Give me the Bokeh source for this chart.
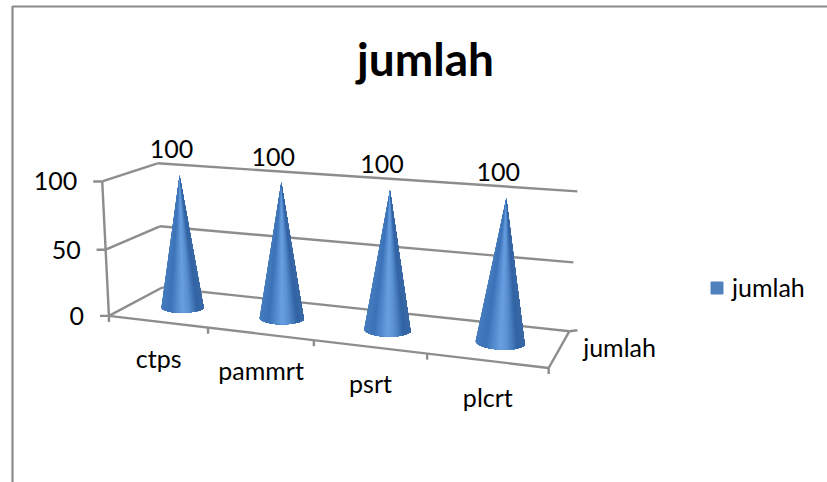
import numpy as np
from bokeh.plotting import figure
from bokeh.embed import file_html
from bokeh.resources import INLINE
from bokeh.core.properties import value
from bokeh.models import Legend, LegendItem

# ---- data
title_text = "jumlah"
categories = ["ctps", "pammrt", "psrt", "plcrt"]
series_name = "jumlah"
values = [100, 100, 100, 100]
y_ticks = [0, 50, 100]
y_max = 100

# ---- style
GRID = "#8d8d8d"
FONT = "Lato"
LABEL_SIZE = "25px"

# ---- the 3D frame: world (u along categories, v value, d depth) -> screen
frame_world = [(0, 0, 0), (1, 0, 0), (0, 0, 1), (1, 0, 1), (0, 1, 0), (0, 1, 1),
               (1, 1, 1), (0, .5, 0), (0, .5, 1), (1, .5, 1), (.25, 0, 0), (.5, 0, 0), (.75, 0, 0)]
frame_screen = [(109, 314), (548, 366), (162, 287), (569, 330), (102, 181), (157, 163),
                (577, 191), (105, 248), (159, 226), (573, 262), (207, 328), (313, 343), (427, 353)]


def fit_projection(world, screen):
    rows = []
    for (u, v, d), (x, y) in zip(world, screen):
        X = [u, v, d, 1]
        rows.append(X + [0, 0, 0, 0] + [-x * c for c in X])
        rows.append([0, 0, 0, 0] + X + [-y * c for c in X])
    A = np.array(rows, float)
    scale = np.abs(A).max(axis=0)
    _, _, vt = np.linalg.svd(A / scale)
    return (vt[-1] / scale).reshape(3, 4)


P = fit_projection(frame_world, frame_screen)


def project(u, val, d):
    h = P @ np.array([u, val / y_max, d, 1.0])
    return h[0] / h[2], h[1] / h[2]


p = figure(width=827, height=482, x_range=(0, 827), y_range=(482, 0),
           output_backend="svg", toolbar_location=None, min_border=0,
           x_axis_type=None, y_axis_type=None)
p.outline_line_color = None
p.xgrid.visible = False
p.ygrid.visible = False
p.background_fill_color = "white"


def seg(a, b, width=2.4):
    p.line([a[0], b[0]], [a[1], b[1]], line_color=GRID, line_width=width)


# chart-area border (open to the right and bottom of the crop)
p.line([12, 12, 827], [482, 6, 6], line_color="#8a8a8a", line_width=2.2)

# walls: gridlines on the back wall and side wall, floor
for t in y_ticks:
    seg(project(0, t, 0), project(0, t, 1))
    seg(project(0, t, 1), project(1, t, 1))
seg(project(0, 0, 0), project(0, y_max, 0))
seg(project(0, 0, 0), project(1, 0, 0))
seg(project(1, 0, 0), project(1, 0, 1))

# ticks
for t in y_ticks:
    x, y = project(0, t, 0)
    seg((x - 9, y), (x, y))
n = len(categories)
for i in range(n + 1):
    x, y = project(i / n, 0, 0)
    seg((x, y), (x, y + 6))
x, y = project(1, 0, 1)
seg((x, y), (x + 8, y - 1))

# ---- cones: nested fans painted left to right, so that no seams show
STOPS_T = [0.0, 0.2, 0.5, 0.65, 0.85, 1.0]
STOPS_R = [70, 60, 105, 90, 50, 60]
STOPS_G = [125, 115, 160, 145, 100, 105]
STOPS_B = [190, 185, 225, 210, 165, 165]


def shade(t):
    r = np.interp(t, STOPS_T, STOPS_R)
    g = np.interp(t, STOPS_T, STOPS_G)
    b = np.interp(t, STOPS_T, STOPS_B)
    return "#%02x%02x%02x" % (int(r), int(g), int(b))


RU, RD = 0.052, 0.2
STRIPS = 48
xs, ys, cols = [], [], []
for i, val in enumerate(values):
    uc = (i + .5) / n
    dc = .5
    ax, ay = project(uc, val, dc)
    th = np.linspace(np.pi, 2 * np.pi, STRIPS + 1)
    bx, by = map(list, zip(*[project(uc + RU * np.cos(a), 0, dc + RD * np.sin(a)) for a in th]))
    lo, hi = min(bx), max(bx)
    for k in range(STRIPS):
        xs.append([ax] + bx[k:])
        ys.append([ay] + by[k:])
        cols.append(shade(((bx[k] + bx[k + 1]) / 2 - lo) / (hi - lo)))
p.patches(xs, ys, fill_color=cols, line_color=None)

# ---- texts
lx, ly = [], []
for i, val in enumerate(values):
    ax, ay = project((i + .5) / n, val, .5)
    lx.append(ax - 8)
    ly.append(ay - 26)
p.text(lx, ly, text=[str(v) for v in values], text_font=value(FONT), text_font_size=value(LABEL_SIZE),
       text_color="black", text_align="center", text_baseline="middle")

tx, ty = [], []
for t in y_ticks:
    x, y = project(0, t, 0)
    tx.append(x - 25)
    ty.append(y)
p.text(tx, ty, text=[str(t) for t in y_ticks], text_font=value(FONT), text_font_size=value(LABEL_SIZE),
       text_color="black", text_align="right", text_baseline="middle")

cx, cy = [], []
for i in range(n):
    x, y = project((i + .5) / n, 0, 0)
    cx.append(x + 1)
    cy.append(y + 36)
p.text(cx, cy, text=categories, text_font=value(FONT), text_font_size=value(LABEL_SIZE),
       text_color="black", text_align="center", text_baseline="middle")

x, y = project(1, 0, .5)
p.text([x + 60], [y - 2], text=[series_name], text_font=value(FONT), text_font_size=value(LABEL_SIZE),
       text_color="black", text_align="center", text_baseline="middle")

p.text([425], [58], text=[title_text], text_font=value(FONT), text_font_size=value("46px"),
       text_font_style="bold", text_color="black", text_align="center", text_baseline="middle")

# ---- legend
swatch = p.patches([[]], [[]], fill_color="#4f81bd", line_color="#4f81bd")
legend = Legend(items=[LegendItem(label=series_name, renderers=[swatch])],
                location=(709, 180), orientation="vertical",
                glyph_width=15, glyph_height=15, label_text_font=FONT, label_text_font_size=LABEL_SIZE,
                label_text_color="black", background_fill_alpha=0, border_line_color=None,
                margin=0, padding=8, label_standoff=8)
p.add_layout(legend, "center")

open("out.html", "w").write(file_html(p, INLINE))
